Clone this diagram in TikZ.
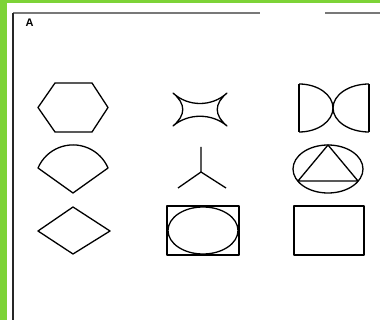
\documentclass[tikz,border=0pt]{standalone}
\usepackage{fontspec}
\setmainfont{Liberation Sans}
\definecolor{limeband}{RGB}{125,211,55}
\definecolor{frameg}{RGB}{120,120,120}
\begin{document}
\begin{tikzpicture}[x=1pt,y=-1pt,
  shp/.style={draw=black,line width=1.3pt,line join=round},
  frm/.style={draw=frameg,line width=1.1pt}]
\useasboundingbox (0,0) rectangle (380,320);
\fill[white] (0,0) rectangle (380,320);
% green bands
\fill[limeband] (0,0) rectangle (380,3.5);
\fill[limeband] (0,0) rectangle (7,320);
% frame
\draw[frm] (13,13) -- (260,13);
\draw[frm] (325,13) -- (380,13);
\draw[draw=black!85,line width=1.2pt] (13,13) -- (13,320);
\node[font=\bfseries\fontsize{11}{11}\selectfont,inner sep=0pt] (lblA) at (29.5,23) {A};
% row 1
\draw[shp] (38,107.5) -- (55,83) -- (92,83) -- (108,107.5) -- (92,132) -- (55,132) -- cycle;
\draw[shp] (173,93) .. controls (188,107) and (212,107) .. (227,93)
  .. controls (214,104) and (214,115) .. (227,126)
  .. controls (212,113) and (188,113) .. (173,126)
  .. controls (186,115) and (186,104) .. (173,93) -- cycle;
\draw[shp] (299,84) -- (299,132);
\draw[shp] (299,84) arc[start angle=-90,end angle=90,x radius=34,y radius=24];
\draw[shp] (369,84) -- (369,132);
\draw[shp] (369,84) arc[start angle=270,end angle=90,x radius=36,y radius=24];
% row 2
\draw[shp] (73,193) -- (38,168) arc[start angle=-156.8,end angle=-23.2,radius=38.1] -- cycle;
\coordinate (yc) at (201,172);
\coordinate (yt) at (201,147);
\coordinate (yl) at (178,188);
\coordinate (yr) at (226,188);
\draw[shp] (yt) -- (yc) (yl) -- (yc) -- (yr);
\draw[shp] (328,169) ellipse[x radius=35,y radius=24];
\draw[shp] (328,145) -- (298,181) -- (358,181) -- cycle;
% row 3
\draw[shp] (38,231) -- (73,207) -- (110,231) -- (73,254) -- cycle;
\draw[shp] (167,206) rectangle (239,255);
\draw[shp] (203,230.5) ellipse[x radius=35,y radius=23.5];
\draw[shp] (294,206) rectangle (364,255);
\end{tikzpicture}
\end{document}
